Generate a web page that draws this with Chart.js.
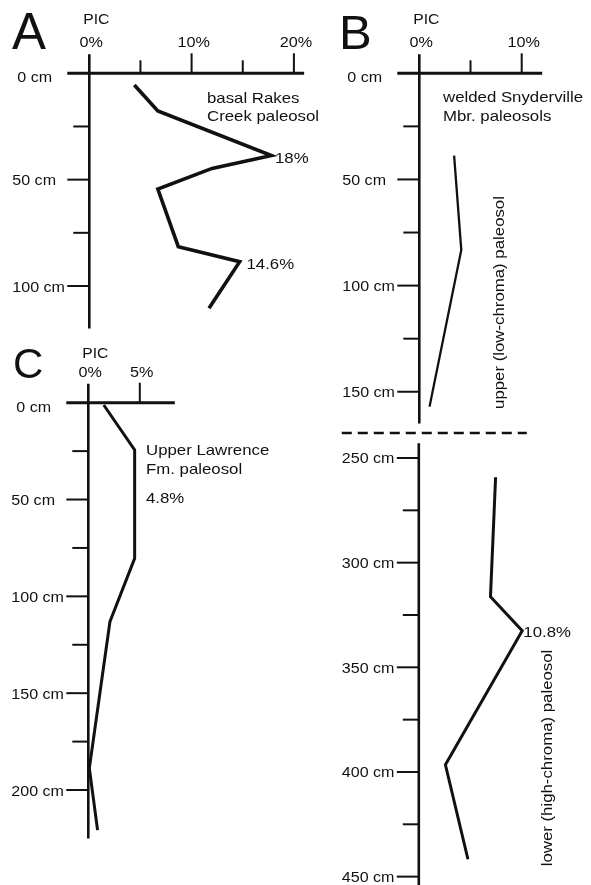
<!DOCTYPE html>
<html>
<head>
<meta charset="utf-8">
<script src="https://cdn.jsdelivr.net/npm/chart.js@4/dist/chart.umd.min.js"></script>
<style>
  html, body { margin: 0; padding: 0; background: #fff; }
  #page { position: relative; width: 591px; height: 885px; overflow: hidden; background: #fff; }
  #page canvas { position: absolute; left: 0; top: 0; }
</style>
</head>
<body>
<div id="page">
  <canvas id="chartA" width="591" height="885"></canvas>
  <canvas id="chartB1" width="591" height="885"></canvas>
  <canvas id="chartB2" width="591" height="885"></canvas>
  <canvas id="chartC" width="591" height="885"></canvas>
</div>
<script>
// A: basal Rakes Creek paleosol
const depthA = [5.5, 17.7, 38.7, 44.7, 54.4, 81.5, 88.6, 110.5];
const picA = [4.4, 6.7, 17.8, 12.0, 6.7, 8.7, 14.7, 11.7];
const picTicksA = [0, 5, 10, 15, 20];
const picLabelsA = ['0%', '', '10%', '', '20%'];
const depthTicksA = [0, 25, 50, 75, 100];
const depthLabelsA = ['0 cm', '', '50 cm', '', '100 cm'];

// B: welded Snyderville Mbr. paleosols, upper (low-chroma)
const depthB1 = [38.8, 83.2, 157];
const picB1 = [3.4, 4.1, 1.0];
const picTicksB = [0, 5, 10];
const picLabelsB = ['0%', '', '10%'];
const depthTicksB1 = [0, 25, 50, 75, 100, 125, 150];
const depthLabelsB1 = ['0 cm', '', '50 cm', '', '100 cm', '', '150 cm'];

// B: lower (high-chroma)
const depthB2 = [259.2, 316.3, 332.5, 396.6, 441.7];
const picB2 = [7.5, 7.0, 10.1, 2.6, 4.8];
const depthTicksB2 = [250, 275, 300, 325, 350, 375, 400, 425, 450];
const depthLabelsB2 = ['250 cm', '', '300 cm', '', '350 cm', '', '400 cm', '', '450 cm'];

// C: Upper Lawrence Fm. paleosol
const depthC = [1.2, 24.4, 80.4, 113.1, 188.8, 220.7];
const picC = [1.5, 4.5, 4.5, 2.1, 0.1, 0.9];
const picTicksC = [0, 5];
const picLabelsC = ['0%', '5%'];
const depthTicksC = [0, 25, 50, 75, 100, 125, 150, 175, 200];
const depthLabelsC = ['0 cm', '', '50 cm', '', '100 cm', '', '150 cm', '', '200 cm'];

const INK = '#111';
const FONT = '"Liberation Sans", Arial, Helvetica, sans-serif';

function drawText(ctx, text, x, y, align, sx, rot) {
    ctx.save();
    ctx.translate(x, y);
    if (rot) ctx.rotate(rot);
    ctx.scale(sx, 1);
    ctx.textAlign = align;
    ctx.textBaseline = 'alphabetic';
    ctx.fillText(text, 0, 0);
    ctx.restore();
}

// axes, ticks and texts drawn from the chart's own scales
const paleoAxes = {
    id: 'paleoAxes',
    afterDraw(chart, args, o) {
        const ctx = chart.ctx;
        const xs = chart.scales.x, ys = chart.scales.y;
        const x0 = xs.getPixelForValue(0);
        const yTop = ys.getPixelForValue(ys.min);
        const yBot = ys.getPixelForValue(ys.max);
        ctx.save();
        ctx.strokeStyle = INK;
        ctx.fillStyle = INK;
        ctx.lineCap = 'butt';

        // vertical depth axis
        ctx.lineWidth = 2.6;
        ctx.beginPath();
        ctx.moveTo(x0, o.topAxis ? yTop - 19 : yTop);
        ctx.lineTo(x0, yBot);
        ctx.stroke();

        // top PIC axis
        if (o.topAxis) {
            ctx.lineWidth = 3;
            ctx.beginPath();
            ctx.moveTo(x0 - 22, yTop);
            ctx.lineTo(xs.getPixelForValue(xs.max), yTop);
            ctx.stroke();
            ctx.lineWidth = 2;
            o.picTicks.forEach((t, i) => {
                if (t === 0) return;
                const px = xs.getPixelForValue(t);
                ctx.beginPath();
                ctx.moveTo(px, yTop);
                ctx.lineTo(px, yTop - (o.picLabels[i] ? 20 : 13));
                ctx.stroke();
            });
            ctx.font = '15px ' + FONT;
            o.picTicks.forEach((t, i) => {
                if (!o.picLabels[i]) return;
                drawText(ctx, o.picLabels[i], xs.getPixelForValue(t) + 2, yTop - 26, 'center', 1.08);
            });
            ctx.font = '14px ' + FONT;
            drawText(ctx, 'PIC', x0 + 7, yTop - o.picOffset, 'center', 1.12);
        }

        // depth ticks and labels
        ctx.lineWidth = 2;
        ctx.font = '15px ' + FONT;
        o.depthTicks.forEach((t, i) => {
            const py = ys.getPixelForValue(t);
            const lab = o.depthLabels[i];
            if (!(o.topAxis && t === 0)) {
                ctx.beginPath();
                ctx.moveTo(x0, py);
                ctx.lineTo(x0 - (lab ? 22 : 16), py);
                ctx.stroke();
            }
            if (lab) {
                const zero = o.topAxis && t === 0;
                drawText(ctx, lab, x0 - (zero ? 72 : 77), py + (zero ? 9 : 5.5), 'left', 1.07);
            }
        });

        // panel letter
        if (o.letter) {
            ctx.font = o.letter.size + 'px ' + FONT;
            drawText(ctx, o.letter.text, o.letter.x, o.letter.y, 'left', 1);
        }

        // notes
        ctx.font = '15px ' + FONT;
        (o.notes || []).forEach(n => {
            drawText(ctx, n.text, n.x, n.y, n.rot ? 'center' : 'left', 1.12, n.rot ? -Math.PI / 2 : 0);
        });

        // dashed break between the welded paleosols
        if (o.breakLine) {
            ctx.lineWidth = 2.5;
            ctx.setLineDash([10, 6]);
            ctx.beginPath();
            ctx.moveTo(x0 - 77, o.breakLine);
            ctx.lineTo(x0 + 108, o.breakLine);
            ctx.stroke();
            ctx.setLineDash([]);
        }
        ctx.restore();
    }
};

function makePanel(id, depths, pics, box, ranges, lineWidth, axes) {
    const points = depths.map((d, i) => ({ x: pics[i], y: d }));
    return new Chart(document.getElementById(id), {
        type: 'scatter',
        data: {
            datasets: [{
                data: points,
                showLine: true,
                borderColor: INK,
                borderWidth: lineWidth,
                borderJoinStyle: 'miter',
                pointRadius: 0,
                fill: false,
                tension: 0,
                clip: false
            }]
        },
        options: {
            responsive: false,
            animation: false,
            events: [],
            layout: {
                padding: { left: box.left, top: box.top, right: 591 - box.right, bottom: 885 - box.bottom }
            },
            plugins: {
                legend: { display: false },
                tooltip: { enabled: false },
                paleoAxes: axes
            },
            scales: {
                x: { type: 'linear', min: ranges.x[0], max: ranges.x[1], display: false },
                y: { type: 'linear', min: ranges.y[0], max: ranges.y[1], reverse: true, display: false }
            }
        },
        plugins: [paleoAxes]
    });
}

makePanel('chartA', depthA, picA,
    { left: 89.3, right: 89.3 + 21 * 10.23, top: 73.3, bottom: 73.3 + 120 * 2.127 },
    { x: [0, 21], y: [0, 120] }, 3.6,
    {
        topAxis: true, picTicks: picTicksA, picLabels: picLabelsA, picOffset: 49,
        depthTicks: depthTicksA, depthLabels: depthLabelsA,
        letter: { text: 'A', x: 12, y: 48.5, size: 51 },
        notes: [
            { text: 'basal Rakes', x: 207, y: 102.7 },
            { text: 'Creek paleosol', x: 207, y: 120.5 },
            { text: '18%', x: 275, y: 163 },
            { text: '14.6%', x: 246.5, y: 269 }
        ]
    });

makePanel('chartB1', depthB1, picB1,
    { left: 419.3, right: 419.3 + 12 * 10.24, top: 73.3, bottom: 73.3 + 165 * 2.123 },
    { x: [0, 12], y: [0, 165] }, 2.3,
    {
        topAxis: true, picTicks: picTicksB, picLabels: picLabelsB, picOffset: 49,
        depthTicks: depthTicksB1, depthLabels: depthLabelsB1,
        letter: { text: 'B', x: 339, y: 48.5, size: 49 },
        notes: [
            { text: 'welded Snyderville', x: 443, y: 102 },
            { text: 'Mbr. paleosols', x: 443, y: 120.5 },
            { text: 'upper (low-chroma) paleosol', x: 504, y: 302.5, rot: true }
        ]
    });

makePanel('chartB2', depthB2, picB2,
    { left: 418.8, right: 418.8 + 12 * 10.24, top: 458 - 7 * 2.0935, bottom: 458 + 204 * 2.0935 },
    { x: [0, 12], y: [243, 454] }, 3,
    {
        topAxis: false,
        depthTicks: depthTicksB2, depthLabels: depthLabelsB2,
        breakLine: 433,
        notes: [
            { text: '10.8%', x: 523.3, y: 637 },
            { text: 'lower (high-chroma) paleosol', x: 552, y: 758, rot: true }
        ]
    });

makePanel('chartC', depthC, picC,
    { left: 88.3, right: 88.3 + 8.4 * 10.3, top: 402.7, bottom: 402.7 + 225 * 1.9365 },
    { x: [0, 8.4], y: [0, 225] }, 3,
    {
        topAxis: true, picTicks: picTicksC, picLabels: picLabelsC, picOffset: 45,
        depthTicks: depthTicksC, depthLabels: depthLabelsC,
        letter: { text: 'C', x: 13, y: 377.5, size: 42 },
        notes: [
            { text: 'Upper Lawrence', x: 146, y: 455 },
            { text: 'Fm. paleosol', x: 146, y: 473.5 },
            { text: '4.8%', x: 146, y: 503.3 }
        ]
    });
</script>
</body>
</html>
